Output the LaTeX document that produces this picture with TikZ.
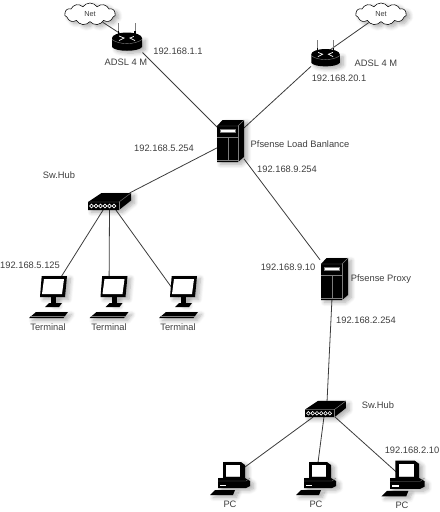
\documentclass[tikz,border=0pt]{standalone}
\usepackage{fontspec}
\setmainfont{Liberation Sans}
\usepackage{xcolor}
\usepackage{tikz}
\usetikzlibrary{shapes.symbols,shadows.blur}
\definecolor{labelgray}{RGB}{62,62,62}
\definecolor{linkgray}{RGB}{60,60,60}
\definecolor{edgegray}{RGB}{125,125,125}
\begin{document}
\begin{tikzpicture}[
 x=0.75pt,y=-0.75pt,
 softshadow/.style={blur shadow={shadow xshift=2.6pt,shadow yshift=-1.8pt,shadow blur steps=8,shadow blur radius=3pt,shadow opacity=32}},
 lbl/.style={inner sep=0pt,text=labelgray,font=\fontsize{7}{8}\selectfont},
 iconbox/.style={inner sep=0pt,outer sep=0pt},
 link/.style={draw=linkgray,line width=0.6pt},
 netcloud/.style={cloud,cloud puffs=11,cloud puff arc=110,aspect=2.5,draw=black,line width=0.4pt,fill=white,
                  inner sep=0pt,minimum width=38pt,minimum height=16.5pt,softshadow,text=labelgray,font=\fontsize{5.5}{6}\selectfont},
 pics/router/.style={code={
   \fill[black,softshadow] (-15,-5) arc[start angle=180,end angle=360,x radius=15,y radius=0] -- (15,4)
      .. controls (12,9) and (-12,9) .. (-15,4) -- cycle;
   \fill[black] (0,-5) ellipse[x radius=15,y radius=5.5];
   \draw[white,line width=0.5pt] (-8,-7) -- (-3,-5) -- (-8,-2.5) (8,-7) -- (3,-5) -- (8,-2.5);
   \draw[edgegray,line width=0.3pt] (-15,-3.5) .. controls (-8,2) and (8,2) .. (15,-3.5);
   \draw[black,line width=0.9pt] (-8.5,-4) -- (-8.5,-12);
   \draw[black,line width=0.9pt] (8,-4) -- (8,-12);
   \draw[edgegray,line width=0.5pt] (-8.5,-12) -- (-8.5,-20);
   \draw[edgegray,line width=0.5pt] (8,-12) -- (8,-20);
 }},
 pics/tower/.style={code={
   \fill[black,softshadow] (-13.5,-15) -- (-8,-21) -- (13.5,-21) -- (13.5,16) -- (7.5,21) -- (-13.5,21) -- cycle;
   \draw[edgegray,line width=0.35pt] (-13.5,-15) -- (7.5,-15) -- (13.5,-21);
   \draw[edgegray,line width=0.35pt] (7.5,-15) -- (7.5,21);
   \fill[white,draw=edgegray,line width=0.3pt] (-10,-12) rectangle (5,-8.5);
   \draw[edgegray,line width=0.5pt] (-13.5,-4) -- (7.5,-4);
   \draw[edgegray,line width=0.5pt] (-2.5,-4) -- (-2.5,19);
   \draw[edgegray,line width=0.5pt] (-13.5,19) -- (7.5,19);
 }},
 pics/hub/.style={code={
   \fill[black,softshadow] (-21.5,0.5) -- (-8,-8.5) -- (21.5,-8.5) -- (21.5,-1) -- (9.5,8.5) -- (-21.5,8.5) -- cycle;
   \draw[edgegray,line width=0.35pt] (-21.5,0.5) -- (9.5,0.5) -- (21.5,-8.5);
   \draw[edgegray,line width=0.35pt] (9.5,0.5) -- (9.5,8.5);
   \foreach \px in {-18,-13.5,-9,-4.5,0,4.5}
     \draw[white,line width=0.45pt] (\px,4.5) circle[radius=1.9];
 }},
 pics/terminal/.style={code={
   \fill[black,softshadow] (-6.8,-21) -- (18.5,-21) -- (16.5,0) -- (-8.5,0) -- cycle;
   \fill[white] (-4.5,-18) -- (15.5,-18) -- (13.5,-3) -- (-6.5,-3) -- cycle;
   \fill[black,softshadow] (2.5,0) rectangle (7.5,7);
   \fill[black] (-3.5,10) -- (0.5,6) -- (13.5,6) -- (10.5,10) -- cycle;
   \fill[black,softshadow] (-19.5,21) -- (-12.5,15) -- (19.5,15) -- (15,21) -- cycle;
   \draw[edgegray,line width=0.3pt] (-18.5,19.5) -- (16,19.5);
 }},
 pics/desktop/.style={code={
   \fill[black,softshadow] (-7,-16) -- (11,-16) -- (15,-13) -- (15,0) -- (-7,0) -- cycle;
   \fill[white] (-4,-13) rectangle (10,-1);
   \fill[black,softshadow] (-12,0) -- (-7,0) -- (15,0) -- (20,3) -- (20,8) -- (16,10) -- (-12,10) -- cycle;
   \draw[edgegray,line width=0.3pt] (-12,3) -- (16,3) -- (20,0);
   \fill[white] (-10,6.5) rectangle (-4,8);
   \fill[black,softshadow] (-20,17) -- (-15,12) -- (5,12) -- (3,17) -- cycle;
 }}]
 \useasboundingbox (0,0) rectangle (440,512);
 \node (netA) [netcloud] at (90,14) {Net};
 \node (netB) [netcloud] at (381,14) {Net};
 \node (rtrA) [iconbox,minimum width=23.25pt,minimum height=14.25pt] at (127,43) {};
 \node (rtrB) [iconbox,minimum width=21.75pt,minimum height=13.5pt] at (325.5,59) {};
 \node (srvLoad) [iconbox,minimum width=20.25pt,minimum height=31.5pt] at (230.5,141) {};
 \node (srvProxy) [iconbox,minimum width=21.75pt,minimum height=31.5pt] at (334.5,279) {};
 \node (hubA) [iconbox,minimum width=32.25pt,minimum height=12.75pt] at (109.5,201.5) {};
 \node (hubB) [iconbox,minimum width=30.75pt,minimum height=12pt] at (325.5,409) {};
 \node (termA) [iconbox,minimum width=29.25pt,minimum height=31.5pt] at (48.5,297) {};
 \node (termB) [iconbox,minimum width=29.25pt,minimum height=31.5pt] at (109,297) {};
 \node (termC) [iconbox,minimum width=29.25pt,minimum height=31.5pt] at (178.5,297) {};
 \node (pcA) [iconbox,minimum width=30pt,minimum height=25.5pt] at (230,478) {};
 \node (pcB) [iconbox,minimum width=30pt,minimum height=25.5pt] at (316,478) {};
 \node (pcC) [iconbox,minimum width=32pt,minimum height=25.5pt] at (403,478) {};
 \draw[link] (netA)--(rtrA.126);
 \draw[link] (netB)--(rtrB.64);
 \draw[link] (rtrA.south east)--(srvLoad.134);
 \draw[link] (rtrB.207)--(srvLoad.44);
 \draw[link] (srvLoad.207)--(hubA.23);
 \draw[link] (srvLoad.307)--(srvProxy.127);
 \draw[link] (srvProxy.263)--(hubB.79);
 \draw[link] (hubA.233)--(termA.center);
 \draw[link] (hubA.south)--(termB.center);
 \draw[link] (hubA.307)--(termC.center);
 \draw[link] (hubB.213)--(pcA.center);
 \draw[link] (hubB.259)--(pcB.center);
 \draw[link] (hubB.320)--(pcC.center);
 \pic at (rtrA) {router};
 \pic[scale=0.95] at (rtrB) {router};
 \pic at (srvLoad) {tower};
 \pic at (srvProxy) {tower};
 \pic at (hubA) {hub};
 \pic[scale=0.95] at (hubB) {hub};
 \pic at (termA) {terminal};
 \pic at (termB) {terminal};
 \pic at (termC) {terminal};
 \pic at (pcA) {desktop};
 \pic at (pcB) {desktop};
 \pic[scale=1.08] at (pcC) {desktop};
 \node (adslA) [lbl] at (126,62) {ADSL 4 M};
 \node (adslB) [lbl] at (376,63) {ADSL 4 M};
 \node (ipRtrA) [lbl] at (178,51) {192.168.1.1};
 \node (ipRtrB) [lbl] at (339,78) {192.168.20.1};
 \node (loadName) [lbl] at (300,144) {Pfsense Load Banlance};
 \node (ipLoadW) [lbl] at (164,148) {192.168.5.254};
 \node (ipLoadS) [lbl] at (287,169) {192.168.9.254};
 \node (hubNameA) [lbl] at (59,175) {Sw.Hub};
 \node (ipTerm) [lbl] at (30,265) {192.168.5.125};
 \node (termLblA) [lbl] at (48,327) {Terminal};
 \node (termLblB) [lbl] at (109,327) {Terminal};
 \node (termLblC) [lbl] at (178,327) {Terminal};
 \node (ipProxyN) [lbl] at (288,267) {192.168.9.10};
 \node (proxyName) [lbl] at (381,279) {Pfsense Proxy};
 \node (ipProxyS) [lbl] at (366,320) {192.168.2.254};
 \node (hubNameB) [lbl] at (378,405) {Sw.Hub};
 \node (ipPc) [lbl] at (412,450) {192.168.2.10};
 \node (pcLblA) [lbl] at (230,504) {PC};
 \node (pcLblB) [lbl] at (316,504) {PC};
 \node (pcLblC) [lbl] at (402,505) {PC};
\end{tikzpicture}
\end{document}
